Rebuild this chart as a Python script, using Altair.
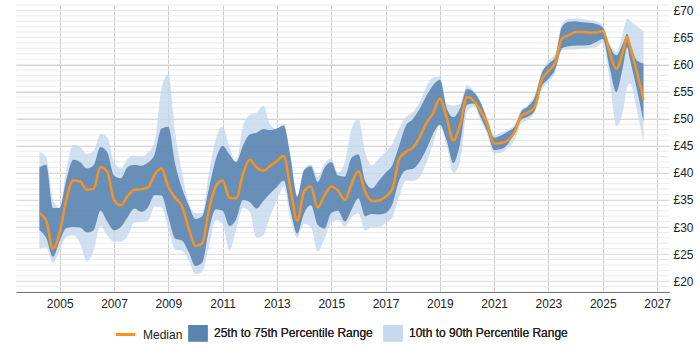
import altair as alt
import pandas as pd

# Quarterly observations (decimal years) with one extra point late in 2025
dates = [
    2004.25, 2004.5, 2004.75, 2005.0, 2005.25, 2005.5, 2005.75, 2006.0, 2006.25, 2006.5,
    2006.75, 2007.0, 2007.25, 2007.5, 2007.75, 2008.0, 2008.25, 2008.5, 2008.75, 2009.0,
    2009.25, 2009.5, 2009.75, 2010.0, 2010.25, 2010.5, 2010.75, 2011.0, 2011.25, 2011.5,
    2011.75, 2012.0, 2012.25, 2012.5, 2012.75, 2013.0, 2013.25, 2013.5, 2013.75, 2014.0,
    2014.25, 2014.5, 2014.75, 2015.0, 2015.25, 2015.5, 2015.75, 2016.0, 2016.25, 2016.5,
    2016.75, 2017.0, 2017.25, 2017.5, 2017.75, 2018.0, 2018.25, 2018.5, 2018.75, 2019.0,
    2019.25, 2019.5, 2019.75, 2020.0, 2020.25, 2020.5, 2020.75, 2021.0, 2021.25, 2021.5,
    2021.75, 2022.0, 2022.25, 2022.5, 2022.75, 2023.0, 2023.25, 2023.5, 2023.75, 2024.0,
    2024.25, 2024.5, 2024.75, 2025.0, 2025.25, 2025.5, 2025.75, 2025.9, 2026.0, 2026.25,
    2026.5,
]

p10 = [
    26.0, 26.2, 23.4, 25.8, 28.2, 28.5, 27.0, 23.6, 25.7, 30.2,
    28.5, 27.3, 27.3, 28.3, 30.9, 30.9, 31.2, 33.8, 33.6, 29.8,
    25.8, 25.6, 23.8, 21.3, 21.8, 26.5, 31.3, 30.5, 25.6, 29.5,
    33.5, 32.8, 28.0, 28.5, 32.0, 34.9, 37.4, 31.6, 28.0, 30.6,
    30.0, 25.5, 27.8, 30.8, 31.3, 30.1, 31.8, 32.5, 29.3, 30.0,
    30.0, 30.7, 31.8, 35.5, 38.6, 38.5, 39.2, 41.8, 45.4, 48.6,
    45.0, 40.0, 42.1, 51.2, 52.2, 49.7, 47.0, 43.5, 43.7, 44.6,
    46.0, 49.1, 49.8, 51.3, 55.3, 56.8, 58.5, 62.6, 62.8, 62.8,
    62.9, 63.0, 63.2, 64.0, 57.3, 48.6, 51.5, 55.9, 56.5, 51.7,
    45.4,
]

p25 = [
    29.4, 28.0, 24.5, 27.4, 29.8, 30.0, 29.9, 29.0, 29.4, 33.0,
    31.0, 29.4, 30.0, 31.8, 33.4, 32.8, 33.6, 35.9, 35.8, 31.8,
    27.9, 27.5, 25.4, 22.8, 23.5, 29.6, 33.3, 33.0, 30.2, 31.4,
    35.0, 34.6, 33.4, 34.8, 36.2, 37.4, 38.6, 33.0, 28.8, 32.5,
    34.0, 30.4, 29.7, 32.6, 33.0, 31.0, 33.2, 35.3, 32.0, 32.4,
    32.3, 32.6, 34.2, 38.6, 40.5, 40.7, 42.0, 44.3, 47.2, 48.9,
    46.0, 41.8, 45.5, 52.6, 52.8, 50.3, 47.6, 44.2, 44.4, 45.3,
    47.3, 49.8, 50.4, 51.5, 55.9, 57.4, 59.1, 63.0, 63.4, 63.5,
    63.5, 63.6, 64.1, 64.7, 59.5, 54.9, 59.8, 63.2, 61.0, 55.6,
    49.5,
]

median = [
    32.5, 31.2, 26.0, 29.0, 35.2, 38.6, 38.4, 36.9, 37.1, 41.1,
    40.2, 35.0, 34.0, 35.7, 36.9, 37.0, 37.3, 39.7, 40.8, 37.4,
    35.4, 33.9, 29.8, 26.5, 27.0, 33.3, 37.5, 38.6, 35.4, 35.3,
    39.8, 42.4, 41.0, 40.4, 41.3, 42.2, 43.1, 37.0, 31.2, 36.6,
    37.5, 33.6, 35.8, 37.5, 36.7, 35.0, 38.0, 40.3, 36.5, 34.8,
    34.9, 35.6, 37.0, 42.5, 43.9, 44.6, 46.5, 49.2, 51.0, 53.7,
    50.2, 46.0, 49.0, 54.0, 53.3, 51.5, 49.0, 45.4, 45.5, 46.0,
    47.5, 50.5, 51.2, 52.2, 57.1, 58.8, 60.4, 64.8, 65.4, 66.0,
    66.0, 65.9, 65.9, 66.2, 62.4, 59.2, 62.5, 65.1, 63.5, 58.8,
    53.5,
]

p75 = [
    41.0, 41.5, 33.5, 33.5, 38.8, 42.4, 42.0, 40.8, 41.4, 44.8,
    43.8, 39.5, 39.0, 41.1, 41.5, 41.3, 41.9, 43.5, 48.2, 48.5,
    41.7, 37.2, 34.0, 31.5, 32.0, 37.2, 42.5, 45.0, 43.4, 42.0,
    45.0, 47.1, 47.4, 48.1, 47.9, 48.2, 48.7, 42.9, 35.6, 40.5,
    41.2, 38.3, 40.9, 42.0, 39.5, 39.3, 42.8, 43.4, 38.5, 37.1,
    38.5, 40.0, 41.4, 45.0, 48.7, 49.9, 51.8, 54.2, 56.2, 57.2,
    52.0, 50.3, 52.0, 55.5, 54.9, 53.0, 49.7, 46.5, 46.9, 47.6,
    48.5, 51.3, 52.3, 54.0, 58.4, 60.1, 61.4, 67.0, 67.9, 68.0,
    67.8, 67.7, 67.5, 66.9, 63.5, 61.7, 64.0, 65.7, 64.2, 60.8,
    60.2,
]

p90 = [
    43.9, 43.0, 35.0, 33.6, 40.6, 45.2, 44.8, 43.5, 44.1, 47.2,
    46.6, 42.0, 40.8, 42.6, 43.2, 43.0, 43.7, 45.8, 55.5, 58.2,
    47.5, 40.2, 34.5, 32.6, 32.6, 40.0, 46.3, 48.5, 44.8, 42.0,
    48.6, 50.7, 51.1, 52.4, 48.9, 48.1, 49.1, 43.2, 35.9, 40.6,
    41.6, 39.3, 41.7, 42.7, 40.0, 42.0, 48.2, 50.0, 43.8, 41.4,
    42.6, 43.9, 45.4, 48.2, 50.3, 51.2, 53.0, 55.9, 57.6, 57.8,
    52.8, 52.4, 52.8, 56.2, 55.2, 53.2, 50.3, 46.9, 47.4, 47.9,
    49.0, 51.6, 52.6, 54.5, 58.6, 60.7, 62.0, 67.6, 68.4, 68.5,
    68.4, 68.2, 68.0, 67.2, 64.0, 62.3, 66.0, 68.5, 68.1, 67.1,
    66.2,
]

year_ticks = [2005, 2007, 2009, 2011, 2013, 2015, 2017, 2019, 2021, 2023, 2025, 2027]
price_ticks = [20, 25, 30, 35, 40, 45, 50, 55, 60, 65, 70]
minor_levels = list(range(18, 72))

MEDIAN_LABEL = "Median"
IQR_LABEL = "25th to 75th Percentile Range"
DECILE_LABEL = "10th to 90th Percentile Range"

FONT = "Liberation Sans"
ORANGE = "#f7931e"
DARK = "#5580ae"
LIGHT = "#c5d8ec"

df = pd.DataFrame({
    "year": dates, "p10": p10, "p25": p25, "median": median, "p75": p75, "p90": p90,
})
minor_df = pd.DataFrame({"level": minor_levels})

x_scale = alt.Scale(domain=[2003.39, 2027.44], nice=False, zero=False)
y_scale = alt.Scale(domain=[18, 71], nice=False, zero=False)

x_axis = alt.Axis(
    values=year_ticks, format="d", title=None, grid=True, gridColor="#cccccc",
    domainColor="#000000", domainWidth=1, ticks=False, labelPadding=6,
    labelFontSize=12, labelColor="#222222", labelFont=FONT,
)
y_axis = alt.Axis(
    values=price_ticks, orient="right", title=None, grid=True, gridColor="#d0d0d0",
    domain=False, ticks=False, labelPadding=4, labelFontSize=12,
    labelColor="#222222", labelFont=FONT, labelExpr="'£' + datum.value",
)

band_scale = alt.Scale(domain=[IQR_LABEL, DECILE_LABEL], range=[DARK, LIGHT])
band_legend = alt.Legend(
    title=None, orient="none", legendX=172, legendY=318, direction="horizontal",
    symbolType="M-1,-0.85H1V0.85H-1Z", symbolSize=380, symbolStrokeWidth=0,
    labelFont=FONT, labelFontSize=12, labelColor="#222222", labelOffset=6,
    columnPadding=10,
)

minor_grid = alt.Chart(minor_df).mark_rule(color="#ebebeb", strokeWidth=1).encode(
    y=alt.Y("level:Q", scale=y_scale, axis=y_axis),
)

outer_band = alt.Chart(df).transform_calculate(
    band=f"'{DECILE_LABEL}'"
).mark_area(opacity=0.8, interpolate="monotone").encode(
    x=alt.X("year:Q", scale=x_scale, axis=x_axis),
    y=alt.Y("p10:Q", scale=y_scale, axis=y_axis),
    y2="p90:Q",
    fill=alt.Fill("band:N", scale=band_scale, legend=band_legend),
)

inner_band = alt.Chart(df).transform_calculate(
    band=f"'{IQR_LABEL}'"
).mark_area(opacity=0.85, interpolate="monotone").encode(
    x=alt.X("year:Q", scale=x_scale, axis=x_axis),
    y=alt.Y("p25:Q", scale=y_scale, axis=y_axis),
    y2="p75:Q",
    fill=alt.Fill("band:N", scale=band_scale, legend=band_legend),
)

median_line = alt.Chart(df).transform_calculate(
    series=f"'{MEDIAN_LABEL}'"
).mark_line(strokeWidth=2.5, interpolate="monotone").encode(
    x=alt.X("year:Q", scale=x_scale, axis=x_axis),
    y=alt.Y("median:Q", scale=y_scale, axis=y_axis),
    stroke=alt.Stroke(
        "series:N",
        scale=alt.Scale(domain=[MEDIAN_LABEL], range=[ORANGE]),
        legend=alt.Legend(
            title=None, orient="none", legendX=98, legendY=318,
            symbolType="stroke", symbolSize=380, symbolStrokeWidth=3,
            labelFont=FONT, labelFontSize=12, labelColor="#222222", labelOffset=6,
        ),
    ),
)

chart = alt.layer(minor_grid, outer_band, inner_band, median_line).resolve_scale(
    fill="independent", stroke="independent"
).properties(
    width=653, height=287,
    autosize=alt.AutoSizeParams(type="none"),
    padding={"left": 16, "top": 5, "right": 31, "bottom": 58},
    background="white",
).configure_view(stroke=None)

chart.save("out.html", embed_options={"renderer": "svg", "actions": False})
